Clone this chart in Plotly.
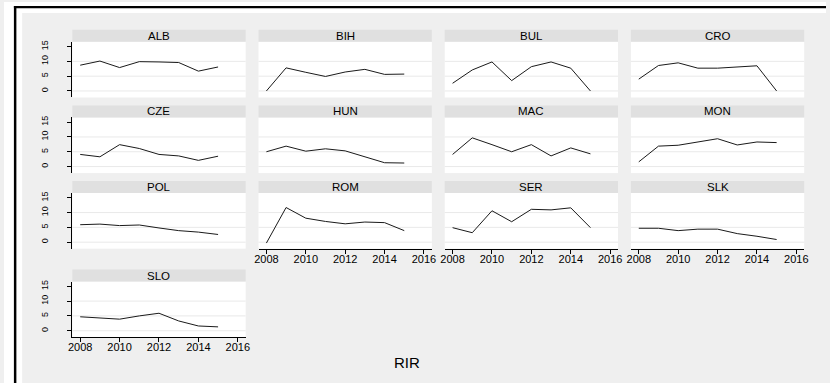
import plotly.graph_objects as go

# ---- data: real interest rate (RIR) by country, 2008-2015 ----
years = [2008, 2009, 2010, 2011, 2012, 2013, 2014, 2015]
countries = ["ALB", "BIH", "BUL", "CRO", "CZE", "HUN", "MAC", "MON",
             "POL", "ROM", "SER", "SLK", "SLO"]

alb = [8.7, 10.1, 7.9, 9.9, 9.8, 9.6, 6.7, 8.1]
bih = [0.0, 7.8, 6.3, 4.9, 6.4, 7.3, 5.6, 5.7]
bul = [2.6, 7.1, 9.8, 3.5, 8.2, 9.8, 7.7, 0.0]
cro = [4.0, 8.6, 9.5, 7.7, 7.7, 8.2, 8.5, 0.0]
cze = [4.1, 3.3, 7.4, 6.1, 4.1, 3.6, 2.1, 3.5]
hun = [5.0, 6.9, 5.2, 6.0, 5.3, 3.3, 1.3, 1.2]
mac = [4.1, 9.7, 7.4, 5.0, 7.4, 3.6, 6.3, 4.3]
mon = [1.6, 6.9, 7.2, 8.4, 9.4, 7.3, 8.3, 8.1]
pol = [5.9, 6.1, 5.6, 5.8, 4.8, 3.9, 3.4, 2.6]
rom = [-0.3, 11.7, 8.1, 7.0, 6.2, 6.8, 6.6, 3.9]
ser = [4.9, 3.2, 10.6, 6.9, 11.1, 10.9, 11.6, 4.9]
slk = [4.7, 4.7, 3.9, 4.4, 4.4, 2.9, 2.0, 0.9]
slo = [4.7, 4.3, 3.9, 5.0, 5.9, 3.3, 1.6, 1.3]

series = [alb, bih, bul, cro, cze, hun, mac, mon, pol, rom, ser, slk, slo]

x_ticks = [2008, 2010, 2012, 2014, 2016]
y_ticks = [0, 5, 10, 15]
grid_values = [0, 5, 10]
x_title = "RIR"

# ---- page geometry (pixels) ----
W, H = 830, 383
GRAPH_BG = "#efefef"
STRIP_BG = "#e0e0e0"
GRID_COLOR = "#e9e9e9"
LINE_COLOR = "#1a1a1a"
FONT = "Liberation Sans, Arial, sans-serif"

COL_LEFT = [69, 257, 445, 633]
PANEL_W = 175
ROW_TOP = [40, 116, 192, 281]
PANEL_H = 56
STRIP_H = 12


def fx(x):
    return x / W


def fy(y):
    return 1 - y / H


fig = go.Figure()
layout = dict(
    width=W, height=H,
    margin=dict(l=0, r=0, t=0, b=0),
    paper_bgcolor=GRAPH_BG,
    plot_bgcolor="white",
    showlegend=False,
    font=dict(family=FONT, color="black"),
)

shapes = [
    # white surround and black frame of the graph region
    dict(type="rect", xref="paper", yref="paper", x0=fx(0), x1=fx(18.3),
         y0=fy(H), y1=fy(0), fillcolor="white", line=dict(width=0)),
    dict(type="rect", xref="paper", yref="paper", x0=fx(0), x1=fx(W),
         y0=fy(11), y1=fy(0), fillcolor="white", line=dict(width=0)),
    dict(type="rect", xref="paper", yref="paper", x0=fx(10), x1=fx(12.5),
         y0=fy(H), y1=fy(4), fillcolor="black", line=dict(width=0)),
    dict(type="rect", xref="paper", yref="paper", x0=fx(10), x1=fx(W),
         y0=fy(6.3), y1=fy(4), fillcolor="black", line=dict(width=0)),
]
annotations = []

n_cols = 4
n = len(countries)
for i, (name, vals) in enumerate(zip(countries, series)):
    r, c = divmod(i, n_cols)
    k = i + 1
    xa = "xaxis" if k == 1 else f"xaxis{k}"
    ya = "yaxis" if k == 1 else f"yaxis{k}"
    xr = "x" if k == 1 else f"x{k}"
    yr = "y" if k == 1 else f"y{k}"

    left = COL_LEFT[c]
    right = left + PANEL_W
    top = ROW_TOP[r]
    bottom = top + PANEL_H

    # a panel shows the x axis when nothing sits below it
    bottom_panel = (i + n_cols) >= n
    left_panel = c == 0

    layout[xa] = dict(
        domain=[fx(left), fx(right)], anchor=yr,
        range=[2007.6, 2016.4], tickvals=x_ticks,
        showgrid=False, zeroline=False,
        showline=bottom_panel, linecolor="black", linewidth=1,
        ticks="outside" if bottom_panel else "", ticklen=4,
        tickcolor="black", tickwidth=1,
        showticklabels=bottom_panel,
        ticklabelstandoff=-4,
        tickfont=dict(size=11, family=FONT, color="black"),
    )
    layout[ya] = dict(
        domain=[fy(bottom), fy(top)], anchor=xr,
        range=[-2.2, 16.6], tickvals=y_ticks,
        showgrid=False, zeroline=False,
        showline=left_panel, linecolor="black", linewidth=1,
        ticks="outside" if left_panel else "", ticklen=4,
        tickcolor="black", tickwidth=1,
        showticklabels=left_panel, tickangle=-90,
        ticklabelstandoff=16,
        tickfont=dict(size=9, family=FONT, color="black"),
    )

    # horizontal grid lines
    for g in grid_values:
        shapes.append(dict(type="line", xref=f"{xr} domain", yref=yr,
                           x0=0, x1=1, y0=g, y1=g, layer="below",
                           line=dict(color=GRID_COLOR, width=1)))

    # title strip above the panel
    shapes.append(dict(type="rect", xref="paper", yref="paper",
                       x0=fx(left), x1=fx(right),
                       y0=fy(top), y1=fy(top - STRIP_H),
                       fillcolor=STRIP_BG, line=dict(width=0)))
    annotations.append(dict(text=name, xref="paper", yref="paper",
                            x=fx((left + right) / 2), y=fy(top - STRIP_H / 2),
                            xanchor="center", yanchor="middle",
                            showarrow=False,
                            font=dict(size=11.5, family=FONT, color="black")))

    fig.add_trace(go.Scatter(x=years, y=vals, mode="lines",
                             xaxis=xr, yaxis=yr,
                             line=dict(color=LINE_COLOR, width=1),
                             hoverinfo="x+y", name=name))

annotations.append(dict(text=x_title, xref="paper", yref="paper",
                        x=fx(406.5), y=fy(362), xanchor="center",
                        yanchor="middle", showarrow=False,
                        font=dict(size=15, family=FONT, color="black")))

layout["shapes"] = shapes
layout["annotations"] = annotations
fig.update_layout(**layout)

fig.write_html("out.html")
